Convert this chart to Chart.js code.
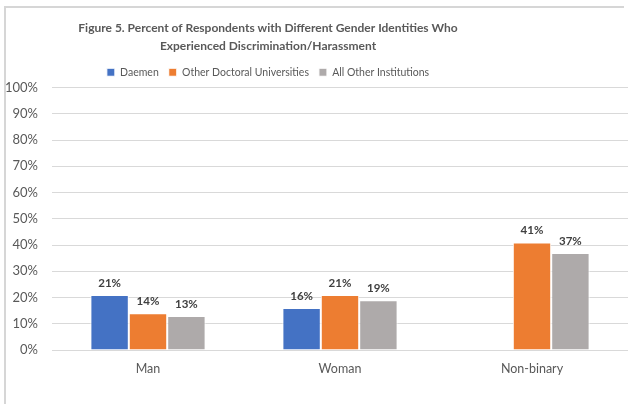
<!DOCTYPE html>
<html>
<head>
<meta charset="utf-8">
<script src="https://cdn.jsdelivr.net/npm/chart.js@4.4.1/dist/chart.umd.min.js"></script>
<style>
  html, body { margin: 0; padding: 0; background: #fff; }
  #wrap { position: relative; width: 628px; height: 404px; overflow: hidden; }
  #frame { position: absolute; left: 4px; top: 6px; width: 618px; height: 440px;
           border-top: 2px solid #d6d6d6; border-left: 2px solid #d6d6d6; }
  canvas { position: absolute; left: 0; top: 0; }
</style>
</head>
<body>
<div id="wrap">
  <div id="frame"></div>
  <canvas id="chart" width="628" height="404"></canvas>
</div>
<script>
// Data
const categories = ['Man', 'Woman', 'Non-binary'];
const daemen = [21, 16, null];
const otherDoctoral = [14, 21, 41];
const allOther = [13, 19, 37];
const yTicks = [0, 10, 20, 30, 40, 50, 60, 70, 80, 90, 100];

const FONT = 'Lato, "Liberation Sans", sans-serif';

// Labels above the bars
const barLabels = {
    id: 'barLabels',
    afterDatasetsDraw(chart) {
        const ctx = chart.ctx;
        ctx.save();
        ctx.font = 'bold 11.5px ' + FONT;
        ctx.fillStyle = '#404040';
        ctx.textAlign = 'center';
        ctx.textBaseline = 'middle';
        chart.data.datasets.forEach((ds, i) => {
            const meta = chart.getDatasetMeta(i);
            meta.data.forEach((bar, j) => {
                if (ds.data[j] == null) return;
                ctx.fillText(ds.data[j] + '%', bar.x, bar.y - 12);
            });
        });
        ctx.restore();
    }
};

// Title and legend sit left of centre in the original
const shiftHeader = {
    id: 'shiftHeader',
    afterLayout(chart) {
        [chart.titleBlock, chart.legend].forEach(box => {
            if (!box) return;
            box.left -= 48;
            box.right -= 48;
        });
    }
};

const canvas = document.getElementById('chart');

let chart = new Chart(canvas, {
    type: 'bar',
    data: {
        labels: categories,
        datasets: [
            { label: 'Daemen', data: daemen, backgroundColor: '#4472c4' },
            { label: 'Other Doctoral Universities', data: otherDoctoral, backgroundColor: '#ed7d31' },
            { label: 'All Other Institutions', data: allOther, backgroundColor: '#aeaaaa' }
        ]
    },
    options: {
        responsive: false,
        animation: false,
        layout: { padding: { left: 4, right: 0, top: 0, bottom: 25 } },
        datasets: {
            bar: { categoryPercentage: 0.6, barPercentage: 1.0, borderWidth: 1, borderColor: '#ffffff' }
        },
        plugins: {
            title: {
                display: true,
                text: ['Figure 5. Percent of Respondents with Different Gender Identities Who',
                       'Experienced Discrimination/Harassment'],
                color: '#595959',
                font: { family: FONT, size: 12, weight: 'bold', lineHeight: 1.5 },
                padding: { top: 19, bottom: 2 }
            },
            legend: {
                position: 'top',
                labels: {
                    boxWidth: 8,
                    boxHeight: 8,
                    color: '#595959',
                    font: { family: FONT, size: 10.5 },
                    padding: 10
                }
            },
            tooltip: { enabled: false }
        },
        scales: {
            x: {
                grid: { display: false },
                border: { color: '#d9d9d9' },
                ticks: { color: '#595959', font: { family: FONT, size: 12.5 }, padding: 3 }
            },
            y: {
                min: 0,
                max: 100,
                afterBuildTicks(axis) { axis.ticks = yTicks.map(v => ({ value: v })); },
                afterFit(axis) { axis.width = 48; },
                grid: { color: '#d9d9d9', drawTicks: false },
                border: { display: false },
                ticks: {
                    color: '#595959',
                    padding: 14,
                    font: { family: FONT, size: 13 },
                    callback: v => v + '%'
                }
            }
        }
    },
    plugins: [barLabels, shiftHeader]
});
</script>
</body>
</html>
